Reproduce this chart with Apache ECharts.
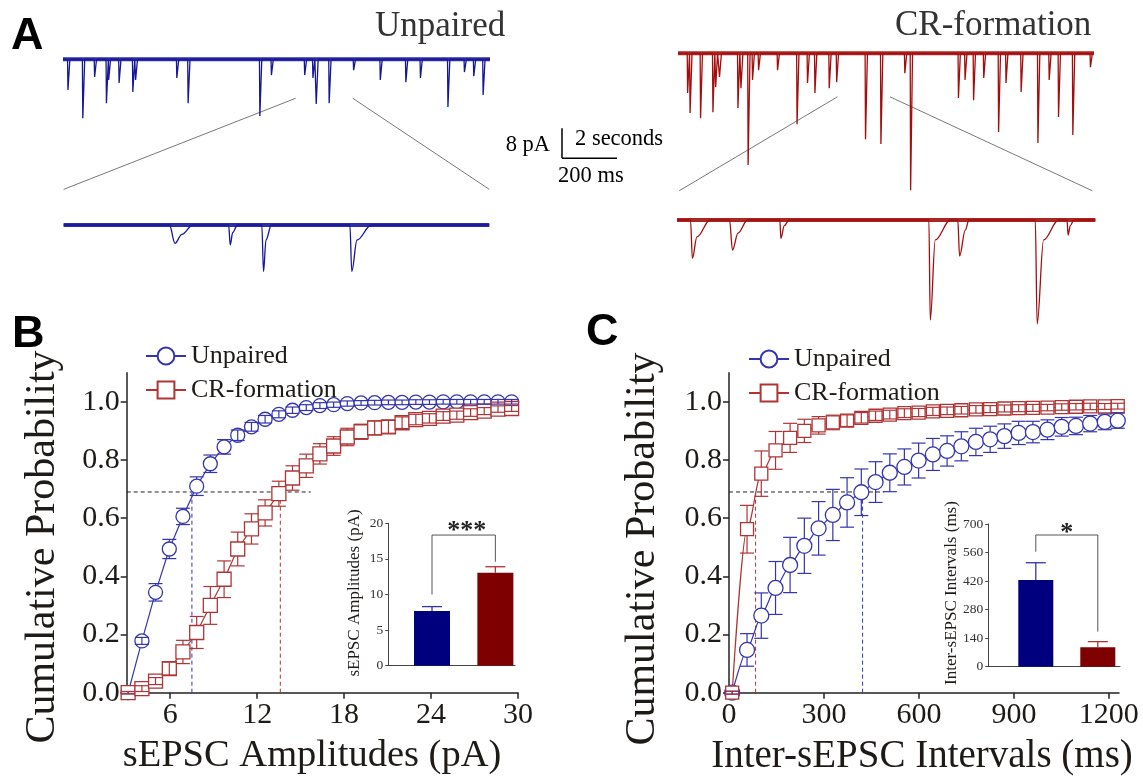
<!DOCTYPE html>
<html><head><meta charset="utf-8">
<script src="https://cdn.jsdelivr.net/npm/echarts@6/dist/echarts.min.js"></script>
<style>html,body{margin:0;padding:0;background:#fff}#c{width:1143px;height:779px}</style>
</head><body><div id="c"></div>
<script>
// ---------------- Panel B : sEPSC amplitudes (cumulative) ----------------
const B_X = [3.1,4.05,4.99,5.94,6.88,7.83,8.77,9.72,10.66,11.61,12.55,13.5,14.44,15.39,16.33,17.28,18.22,19.17,20.11,21.06,22.0,22.95,23.89,24.84,25.78,26.73,27.67,28.62,29.56];
const B_UNPAIRED = [0,0.178,0.345,0.494,0.606,0.71,0.787,0.845,0.885,0.914,0.94,0.957,0.971,0.98,0.987,0.99,0.994,0.996,0.997,0.998,0.998,0.999,0.999,1,1,1,1,1,1];
const B_UNPAIRED_ERR = [0.004,0.012,0.03,0.033,0.028,0.032,0.03,0.025,0.018,0.015,0.013,0.012,0.011,0.01,0.01,0.009,0.009,0.008,0.008,0.008,0.008,0.008,0.008,0.008,0.008,0.008,0.008,0.008,0.008];
const B_CR = [0,0.014,0.04,0.083,0.14,0.207,0.30,0.39,0.494,0.563,0.618,0.684,0.738,0.78,0.821,0.848,0.879,0.897,0.91,0.914,0.928,0.939,0.943,0.951,0.954,0.963,0.968,0.975,0.977];
const B_CR_ERR = [0.004,0.01,0.012,0.022,0.04,0.055,0.065,0.063,0.058,0.052,0.045,0.043,0.042,0.04,0.035,0.032,0.03,0.026,0.024,0.022,0.02,0.018,0.016,0.015,0.014,0.013,0.012,0.011,0.01];
const B_XTICKS = [6,12,18,24,30];
const Y_TICKS = [0,0.2,0.4,0.6,0.8,1.0];
const B_REF = {y:0.69, xStart:3, xEnd:15.7, xUnpaired:7.5, xCR:13.6};

// inset B
const BAR_CATS = ['Unpaired','CR-formation'];
const B_BAR_MEAN = [7.7, 13.05];
const B_BAR_SEM = [0.6, 0.85];
const B_BAR_TICKS = [0,5,10,15,20];
const B_BRACKET = [10.0, 18.35, 14.6];   // left leg bottom, top, right leg bottom
const B_SIG = '***';

// ---------------- Panel C : inter-event intervals (cumulative) ----------------
const C_X = [10,57,102,147,193,238,283,328,373,418,463,508,554,599,644,689,734,780,825,870,915,960,1006,1051,1096,1141,1187,1228];
const C_UNPAIRED = [0,0.147,0.265,0.36,0.439,0.505,0.565,0.611,0.654,0.689,0.724,0.756,0.776,0.798,0.819,0.831,0.847,0.862,0.871,0.882,0.893,0.896,0.904,0.914,0.917,0.925,0.931,0.935];
const C_UNPAIRED_ERR = [0.005,0.056,0.078,0.091,0.095,0.095,0.092,0.088,0.085,0.08,0.07,0.065,0.062,0.06,0.055,0.052,0.05,0.047,0.045,0.042,0.04,0.037,0.034,0.032,0.03,0.028,0.027,0.026];
const C_CR = [0,0.562,0.753,0.833,0.876,0.9,0.919,0.929,0.935,0.945,0.952,0.956,0.961,0.963,0.967,0.969,0.971,0.974,0.975,0.977,0.978,0.979,0.98,0.982,0.983,0.984,0.984,0.985];
const C_CR_ERR = [0.005,0.082,0.078,0.065,0.05,0.04,0.03,0.025,0.02,0.018,0.016,0.015,0.015,0.014,0.014,0.013,0.013,0.013,0.012,0.012,0.012,0.012,0.011,0.011,0.011,0.011,0.01,0.01];
const C_XTICKS = [0,300,600,900,1200];
const C_REF = {y:0.69, xStart:0, xEnd:490, xUnpaired:422, xCR:84};

// inset C
const C_BAR_MEAN = [425, 95];
const C_BAR_SEM = [85, 28];
const C_BAR_TICKS = [0,140,280,420,560,700];
const C_BRACKET = [564, 646, 172];
const C_SIG = '*';

// ---------------- Panel A : example traces ----------------
// long traces: [time (s), amplitude (pA, inward)]
const UP_LONG_EVENTS = [[0.18,8.2],[0.72,15.7],[1.15,4.7],[1.58,11.7],[1.66,5.5],[2.04,6.3],[2.54,8.7],[2.64,5.5],[4.14,5.0],[4.55,11.7],[7.16,15.1],[7.58,4.2],[8.79,4.2],[9.09,5.0],[9.21,11.9],[9.68,11.7],[10.57,2.9],[11.54,5.5],[12.47,6.1],[13.0,5.0],[14.0,12.7],[14.6,3.4],[14.94,4.5],[15.28,9.5]];
const UP_LONG_DURATION = 15.53;
const CR_LONG_EVENTS = [[0.35,10.6],[0.44,15.9],[0.82,17.3],[1.27,15.7],[1.37,9.0],[1.51,6.3],[2.18,14.6],[2.29,9.3],[2.55,29.8],[2.71,7.1],[2.93,4.5],[3.62,4.5],[4.33,18.9],[4.71,7.9],[4.98,10.6],[5.5,9.3],[5.77,7.7],[6.82,22.9],[7.38,24.2],[8.25,5.3],[8.46,36.5],[10.2,11.9],[10.44,7.1],[10.75,12.5],[11.12,6.6],[11.66,21.0],[11.93,7.9],[12.48,10.3],[13.09,23.9],[13.5,7.1],[13.84,17.0],[14.36,21.8],[15.0,3.7]];
const CR_LONG_DURATION = 15.13;
// expanded traces: [onset ms, peak ms, peak pA, recovery ms, recovery pA, end ms]
const UP_ZOOM_EVENTS = [[385,405,4.9,430,2.5,470],[600,606,5.3,615,2.0,632],[720.7,727,12.4,736,4,755.6],[1041,1048,12.4,1067,4,1119]];
const UP_ZOOM_DURATION = 1548;
const CR_ZOOM_EVENTS = [[49,56,10.2,72.4,4.5,120],[190.9,201.8,8,221.8,3.5,256.4],[373.8,377.8,4.9,390,1.5,407.6],[915.6,920.7,26.7,938.9,5.3,993.5],[1020.7,1027.3,9.6,1047.9,2.7,1061.3],[1302.4,1309.3,27.7,1332.6,5.3,1387.1],[1418,1421.6,4,1430,1.5,1442.4]];
const CR_ZOOM_DURATION = 1521;
const SCALE_BAR = {pA:8, longS:2, zoomMs:200};
// zoom connector anchors: long trace [s, pA] -> expanded trace [ms, pA]
const UP_CONNECT = [[[8.46,-10.4],[0,9.5]],[[10.54,-10.4],[1548,9.5]]];
const CR_CONNECT = [[[5.8,-11.6],[8,7.8]],[[7.71,-11.6],[1510,7.8]]];

// ======================================================================
const SERIF = '"Liberation Serif","Times New Roman",serif';
const SANS = '"Liberation Sans",Arial,sans-serif';
const INK = '#1e1a18';
const BLUE = '#3434b0', RED = '#b03434';
const TBLUE = '#16169a', TRED = '#a30d0d';
const BARBLUE = '#00007e', BARRED = '#7e0000';

const pairs = (xs, ys) => xs.map((x,i)=>[x, ys[i]]);
const triples = (xs, ys, es) => xs.map((x,i)=>[x, ys[i], es[i]]);

function errRender(color, r, cap){
  return function(params, api){
    const x=api.value(0), y=api.value(1), e=api.value(2);
    const c=api.coord([x,y]), hi=api.coord([x,y+e]), lo=api.coord([x,y-e]);
    const st={stroke:color, lineWidth:1.2, fill:null};
    const ch=[];
    if (c[1]-hi[1] > r){
      ch.push({type:'line',shape:{x1:c[0],y1:hi[1],x2:c[0],y2:c[1]-r},style:st});
      ch.push({type:'line',shape:{x1:c[0],y1:c[1]+r,x2:c[0],y2:lo[1]},style:st});
    } else {
      ch.push({type:'line',shape:{x1:c[0],y1:hi[1],x2:c[0],y2:lo[1]},style:st});
    }
    ch.push({type:'line',shape:{x1:c[0]-cap,y1:hi[1],x2:c[0]+cap,y2:hi[1]},style:st});
    ch.push({type:'line',shape:{x1:c[0]-cap,y1:lo[1],x2:c[0]+cap,y2:lo[1]},style:st});
    return {type:'group',children:ch};
  };
}
function barErrRender(cap){
  return function(params, api){
    const x=api.value(0), y=api.value(1), e=api.value(2);
    const color = params.dataIndex===0 ? BLUE : RED;
    const b=api.coord([x,y]), t=api.coord([x,y+e]);
    const st={stroke:color, lineWidth:1.3};
    return {type:'group',children:[
      {type:'line',shape:{x1:b[0],y1:b[1],x2:t[0],y2:t[1]},style:st},
      {type:'line',shape:{x1:t[0]-cap,y1:t[1],x2:t[0]+cap,y2:t[1]},style:st}]};
  };
}
function sigRender(text, dy){
  return function(params, api){
    const c=api.coord([api.value(0), api.value(1)]);
    return {type:'text', x:c[0], y:c[1]+dy, style:{text:text, fontSize:26, fontFamily:SERIF, fontWeight:'bold', fill:'#222', align:'center', verticalAlign:'middle', textAlign:'center', textVerticalAlign:'middle'}};
  };
}
function spikeTrace(events, total){
  const pts=[[0,0]];
  events.forEach(([t,a])=>{ pts.push([t-0.015,0],[t,-a],[t+0.07,0]); });
  pts.push([total,0]); return pts;
}
function zoomTrace(events, total){
  const pts=[[0,0]];
  events.forEach(([on,pt,pa,rt,ra,end])=>{ pts.push([on,0],[pt,-pa],[rt,-ra],[end,0]); });
  pts.push([total,0]); return pts;
}

const mainAxisLine = {show:true, lineStyle:{color:'#222', width:1.5}};
const mainTick = (vals)=>({show:true, length:6, lineStyle:{color:'#222', width:1.5}, customValues:vals});
const mainLabel = (vals, fmt)=>({show:true, customValues:vals, fontSize:30, fontFamily:SERIF, color:INK, margin:7, formatter:fmt});
const hiddenAxis = (g, min, max)=>({gridIndex:g, type:'value', min:min, max:max, show:false, splitLine:{show:false}});

const grids = [
  {left:126.7, top:372.7, width:391.3, height:320},   // 0 B main
  {left:388.3, top:523.3, width:126.7, height:142.4}, // 1 B inset
  {left:729, top:372.7, width:390, height:320},       // 2 C main
  {left:988.3, top:524, width:131.7, height:142.7},   // 3 C inset
  {left:63, top:51.8, width:427, height:82.5},        // 4 unpaired long
  {left:63.6, top:217.5, width:425.7, height:82.5},   // 5 unpaired zoom
  {left:678, top:45.8, width:416, height:157.5},      // 6 CR long
  {left:677, top:212.5, width:418.4, height:120}      // 7 CR zoom
].map(g=>Object.assign(g,{containLabel:false, outerBoundsMode:'none'}));

const insetY = (g, max, ticks)=>({gridIndex:g, type:'value', min:0, max:max, interval:ticks[1]-ticks[0],
  axisLine:{show:true, lineStyle:{color:'#444', width:1}}, axisTick:{show:true, length:3, lineStyle:{color:'#444'}},
  axisLabel:{fontSize:13.5, fontFamily:SERIF, color:'#333', margin:5, formatter:v=>String(v)}, splitLine:{show:false}});
const insetX = (g, min, max)=>({gridIndex:g, type:'value', min:min, max:max,
  axisLine:{show:true, lineStyle:{color:'#444', width:1}}, axisTick:{show:false}, axisLabel:{show:false}, splitLine:{show:false}});

const xFmt = v=>String(v);
const yFmt = v=>v.toFixed(1);
const xAxes = [
  {gridIndex:0, type:'value', min:3, max:30, axisLine:mainAxisLine, axisTick:mainTick(B_XTICKS), axisLabel:mainLabel(B_XTICKS, xFmt), splitLine:{show:false}},
  insetX(1, 0.31, 2.31),
  {gridIndex:2, type:'value', min:0, max:1232, axisLine:mainAxisLine, axisTick:mainTick(C_XTICKS), axisLabel:mainLabel(C_XTICKS, xFmt), splitLine:{show:false}},
  insetX(3, 0.234, 2.358),
  hiddenAxis(4, 0, UP_LONG_DURATION), hiddenAxis(5, 0, UP_ZOOM_DURATION),
  hiddenAxis(6, 0, CR_LONG_DURATION), hiddenAxis(7, 0, CR_ZOOM_DURATION)
];
const yAxes = [
  {gridIndex:0, type:'value', min:0, max:1.1, axisLine:mainAxisLine, axisTick:mainTick(Y_TICKS), axisLabel:mainLabel(Y_TICKS, yFmt), splitLine:{show:false}},
  insetY(1, 20, B_BAR_TICKS),
  {gridIndex:2, type:'value', min:0, max:1.1, axisLine:mainAxisLine, axisTick:mainTick(Y_TICKS), axisLabel:mainLabel(Y_TICKS, yFmt), splitLine:{show:false}},
  insetY(3, 700, C_BAR_TICKS),
  hiddenAxis(4, -20, 2), hiddenAxis(5, -20, 2), hiddenAxis(6, -40, 2), hiddenAxis(7, -30, 2)
];

function cumLine(name, ax, xs, ys, color, symbol, size, smooth){
  return {name:name, type:'line', xAxisIndex:ax, yAxisIndex:ax, data:pairs(xs,ys), symbol:symbol, symbolSize:size,
    smooth:smooth||false, smoothMonotone:'x', clip:false, z:3,
    lineStyle:{color:color, width:1.2}, itemStyle:{color:'#fff', borderColor:color, borderWidth:1.3}, emphasis:{disabled:true}};
}
function errSeries(ax, xs, ys, es, color, r){
  return {type:'custom', name:'err', xAxisIndex:ax, yAxisIndex:ax, data:triples(xs,ys,es), encode:{x:0,y:1},
    renderItem:errRender(color, r, 7), clip:false, z:4, silent:true};
}
function dashed(ax, data, color){
  return {type:'line', name:'ref', xAxisIndex:ax, yAxisIndex:ax, data:data, symbol:'none', clip:false, z:2,
    lineStyle:{color:color, width:1, type:[4,3]}, silent:true};
}
function traceSeries(ax, data, color, smooth){
  return {type:'line', name:'trace', xAxisIndex:ax, yAxisIndex:ax, data:data, symbol:'none', clip:false,
    smooth:smooth||false, smoothMonotone:'x', lineStyle:{color:color, width:1.3}, silent:true};
}
function bandSeries(ax, total, color){
  return {type:'line', name:'band', xAxisIndex:ax, yAxisIndex:ax, data:[[0,0],[total,0]], symbol:'none', clip:false,
    lineStyle:{color:color, width:4, opacity:0.9}, silent:true};
}
function barSeries(ax, means, width){
  return {type:'bar', name:'bars', xAxisIndex:ax, yAxisIndex:ax, barWidth:width,
    data:means.map((m,i)=>({value:[i+1,m], itemStyle:{color:i===0?BARBLUE:BARRED}})), silent:true, z:2};
}
function bracket(ax, br){
  return {type:'line', name:'bracket', xAxisIndex:ax, yAxisIndex:ax, data:[[1,br[0]],[1,br[1]],[2,br[1]],[2,br[2]]],
    symbol:'none', lineStyle:{color:'#555', width:1}, silent:true, clip:false};
}

const series = [
  // B
  dashed(0, [[B_REF.xStart,B_REF.y],[B_REF.xEnd,B_REF.y]], '#222'),
  dashed(0, [[B_REF.xUnpaired,0],[B_REF.xUnpaired,B_REF.y]], BLUE),
  dashed(0, [[B_REF.xCR,0],[B_REF.xCR,B_REF.y]], RED),
  cumLine('Unpaired', 0, B_X, B_UNPAIRED, BLUE, 'circle', 14),
  errSeries(0, B_X, B_UNPAIRED, B_UNPAIRED_ERR, BLUE, 7),
  cumLine('CR-formation', 0, B_X, B_CR, RED, 'rect', 14),
  errSeries(0, B_X, B_CR, B_CR_ERR, RED, 7),
  barSeries(1, B_BAR_MEAN, 36),
  {type:'custom', name:'barerr', xAxisIndex:1, yAxisIndex:1, data:B_BAR_MEAN.map((m,i)=>[i+1,m,B_BAR_SEM[i]]), encode:{x:0,y:1}, renderItem:barErrRender(10), clip:false, z:3},
  bracket(1, B_BRACKET),
  {type:'custom', name:'sig', xAxisIndex:1, yAxisIndex:1, data:[[1.55, B_BRACKET[1]]], encode:{x:0,y:1}, renderItem:sigRender(B_SIG,-4), clip:false},
  // C
  dashed(2, [[C_REF.xStart,C_REF.y],[C_REF.xEnd,C_REF.y]], '#222'),
  dashed(2, [[C_REF.xUnpaired,0],[C_REF.xUnpaired,C_REF.y]], BLUE),
  dashed(2, [[C_REF.xCR,0],[C_REF.xCR,C_REF.y]], RED),
  cumLine('Unpaired', 2, C_X, C_UNPAIRED, BLUE, 'circle', 15, 0.2),
  errSeries(2, C_X, C_UNPAIRED, C_UNPAIRED_ERR, BLUE, 7.5),
  cumLine('CR-formation', 2, C_X, C_CR, RED, 'rect', 13, 0.3),
  errSeries(2, C_X, C_CR, C_CR_ERR, RED, 6.5),
  barSeries(3, C_BAR_MEAN, 35),
  {type:'custom', name:'barerr', xAxisIndex:3, yAxisIndex:3, data:C_BAR_MEAN.map((m,i)=>[i+1,m,C_BAR_SEM[i]]), encode:{x:0,y:1}, renderItem:barErrRender(10), clip:false, z:3},
  bracket(3, C_BRACKET),
  {type:'custom', name:'sig', xAxisIndex:3, yAxisIndex:3, data:[[1.5, C_BRACKET[1]]], encode:{x:0,y:1}, renderItem:sigRender(C_SIG,-2), clip:false},
  // A traces
  bandSeries(4, UP_LONG_DURATION, TBLUE), traceSeries(4, spikeTrace(UP_LONG_EVENTS, UP_LONG_DURATION), TBLUE),
  bandSeries(5, UP_ZOOM_DURATION, TBLUE), traceSeries(5, zoomTrace(UP_ZOOM_EVENTS, UP_ZOOM_DURATION), TBLUE, 0.35),
  bandSeries(6, CR_LONG_DURATION, TRED), traceSeries(6, spikeTrace(CR_LONG_EVENTS, CR_LONG_DURATION), TRED),
  bandSeries(7, CR_ZOOM_DURATION, TRED), traceSeries(7, zoomTrace(CR_ZOOM_EVENTS, CR_ZOOM_DURATION), TRED, 0.35)
];

const legendBase = {orient:'vertical', itemWidth:40, itemHeight:21, itemGap:8, selectedMode:false,
  textStyle:{fontSize:26, fontFamily:SERIF, color:INK}, data:['Unpaired','CR-formation']};

const option = {
  animation:false, backgroundColor:'#fff',
  grid:grids, xAxis:xAxes, yAxis:yAxes, series:series,
  legend:[Object.assign({left:140, top:338}, legendBase), Object.assign({left:743, top:341}, legendBase)]
};

const chart = echarts.init(document.getElementById('c'), null, {renderer:'canvas'});
chart.setOption(option);

const px = (g, v)=>chart.convertToPixel({gridIndex:g}, v);
function txt(text, x, y, size, opts){
  opts = opts||{};
  return {type:'text', x:x, y:y, rotation:opts.rot||0, silent:true, style:{text:text, fontSize:size,
    fontFamily:opts.family||SERIF, fontWeight:opts.weight||'normal', fill:opts.color||INK,
    align:opts.align||'center', verticalAlign:'middle', textAlign:opts.align||'center', textVerticalAlign:'middle'}};
}
function seg(a, b, color, w){
  return {type:'line', silent:true, shape:{x1:a[0],y1:a[1],x2:b[0],y2:b[1]}, style:{stroke:color, lineWidth:w}};
}
const g = [];
g.push(txt('A', 11, 37, 45, {family:SANS, weight:'bold', align:'left', color:'#000'}));
g.push(txt('B', 12, 335, 45, {family:SANS, weight:'bold', align:'left', color:'#000'}));
g.push(txt('C', 586, 333, 45, {family:SANS, weight:'bold', align:'left', color:'#000'}));
g.push(txt('Unpaired', 375, 27, 35, {align:'left', color:'#333'}));
g.push(txt('CR-formation', 895, 26, 35, {align:'left', color:'#333'}));
g.push(txt('Cumulative Probability', 43, 547, 42, {rot:Math.PI/2}));
g.push(txt('Cumulative Probability', 643, 549, 42, {rot:Math.PI/2}));
g.push(txt('sEPSC Amplitudes (pA)', 312, 756, 38.5));
g.push(txt('Inter-sEPSC Intervals (ms)', 922, 757, 39));
g.push(txt('sEPSC Amplitudes (pA)', 355, 593, 17, {rot:Math.PI/2}));
g.push(txt('Inter-sEPSC Intervals (ms)', 952, 593, 17, {rot:Math.PI/2}));
// scale bar from trace scales
const o4 = px(4,[0,0]);
const vLen = Math.abs(px(4,[0,SCALE_BAR.pA])[1]-o4[1]);
const hLen = px(4,[SCALE_BAR.longS,0])[0]-o4[0];
const corner = [562, 158.3];
g.push(seg([corner[0], corner[1]-vLen], corner, '#000', 1.5));
g.push(seg(corner, [corner[0]+hLen, corner[1]], '#000', 1.5));
g.push(txt(SCALE_BAR.pA+' pA', 550, 145, 22.5, {align:'right', color:'#000'}));
g.push(txt(SCALE_BAR.longS+' seconds', 575, 139, 22.5, {align:'left', color:'#000'}));
g.push(txt(SCALE_BAR.zoomMs+' ms', 558, 176, 22.5, {align:'left', color:'#000'}));
// zoom connectors
UP_CONNECT.forEach(([a,b])=>g.push(seg(px(4,a), px(5,b), '#555', 0.8)));
CR_CONNECT.forEach(([a,b])=>g.push(seg(px(6,a), px(7,b), '#555', 0.8)));
chart.setOption({graphic:{elements:g}});
</script></body></html>
